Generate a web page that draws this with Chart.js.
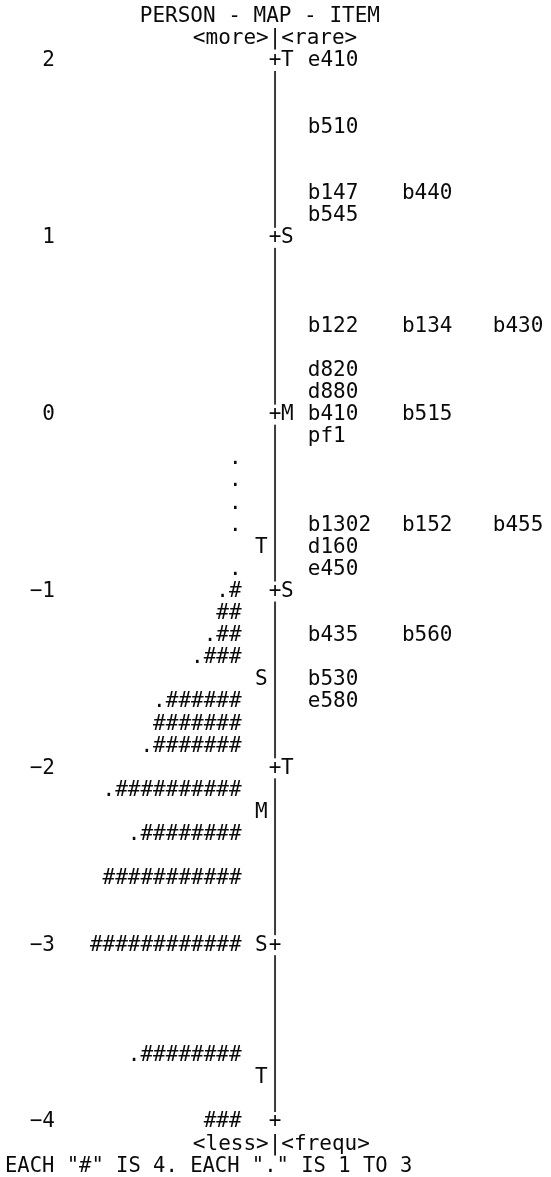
<!DOCTYPE html>
<html lang="en">
<head>
<meta charset="UTF-8">
<title>PERSON - MAP - ITEM</title>
<script src="https://cdn.jsdelivr.net/npm/chart.js"></script>
<style>
  body { margin: 0; background: #fff; }
  #box { width: 551px; height: 1177px; }
</style>
</head>
<body>
<div id="box"><canvas id="wright"></canvas></div>
<script>
// items (right side), measure in logits
const itemNames = ['e410', 'b510', 'b147', 'b440', 'b545', 'b122', 'b134', 'b430',
  'd820', 'd880', 'b410', 'b515', 'pf1', 'b1302', 'b152', 'b455', 'd160', 'e450',
  'b435', 'b560', 'b530', 'e580'];
const itemMeasures = [2, 1.625, 1.25, 1.25, 1.125, 0.5, 0.5, 0.5,
  0.25, 0.125, 0, 0, -0.125, -0.625, -0.625, -0.625, -0.75, -0.875,
  -1.25, -1.25, -1.5, -1.625];

// persons (left side): each "#" is 4, each "." is 1 to 3
const personMeasures = [-0.25, -0.375, -0.5, -0.625, -0.875, -1, -1.125, -1.25, -1.375,
  -1.625, -1.75, -1.875, -2.125, -2.375, -2.625, -3, -3.625, -4];
const personHashes = [0, 0, 0, 0, 0, 1, 2, 2, 3, 6, 7, 7, 10, 8, 11, 12, 8, 3];
const personDots   = [1, 1, 1, 1, 1, 1, 0, 1, 1, 1, 0, 1, 1, 1, 0, 0, 1, 0];

// mean / 1 SD / 2 SD markers
const personMarkLabels = ['T', 'S', 'M', 'S', 'T'];
const personMarkMeasures = [-0.75, -1.5, -2.25, -3, -3.75];
const itemMarkLabels = ['T', 'S', 'M', 'S', 'T'];
const itemMarkMeasures = [2, 1, 0, -1, -2];

const yTicks = [2, 1, 0, -1, -2, -3, -4];

const FONT = '"DejaVu Sans Mono", "Liberation Mono", monospace';
const INK = '#0a0a0a';

// x scale is in character columns (0..40)
const divX = 17.7, personX = 15.0, pMarkX = 16.6, iMarkX = 18.7;
const itemCols = [20.35, 27.95, 35.3];

// spread items that share a row over the columns
const used = {};
const itemPoints = itemMeasures.map((y, i) => {
  const c = used[y] || 0;
  used[y] = c + 1;
  return { x: itemCols[c], y: y, label: itemNames[i] };
});
const personPoints = personMeasures.map((y, i) => ({
  x: personX, y: y, label: '.'.repeat(personDots[i]) + '#'.repeat(personHashes[i])
}));
const pMarkPoints = personMarkMeasures.map((y, i) => ({ x: pMarkX, y: y, label: personMarkLabels[i] }));
const iMarkPoints = itemMarkMeasures.map((y, i) => ({ x: iMarkX, y: y, label: itemMarkLabels[i] }));
const plusPoints = yTicks.map(y => ({ x: divX, y: y, label: '+' }));

// writes the text marks at the points the scales give, plus the divider
const textMarks = {
  id: 'textMarks',
  afterDatasetsDraw(chart) {
    const ctx = chart.ctx;
    const xs = chart.scales.x, ys = chart.scales.y;
    ctx.save();
    ctx.fillStyle = INK;
    ctx.font = '21px ' + FONT;
    ctx.textBaseline = 'middle';
    chart.data.datasets.forEach((ds, di) => {
      const meta = chart.getDatasetMeta(di);
      ctx.textAlign = ds.align;
      meta.data.forEach((pt, i) => ctx.fillText(ds.data[i].label, pt.x, pt.y));
    });

    // vertical divider, broken at each "+"
    const dx = xs.getPixelForValue(divX);
    ctx.strokeStyle = '#3c3c3c';
    ctx.lineWidth = 2;
    for (let k = 0; k < yTicks.length - 1; k++) {
      const a = ys.getPixelForValue(yTicks[k]) + 10;
      const b = ys.getPixelForValue(yTicks[k + 1]) - 10;
      ctx.beginPath();
      ctx.moveTo(dx, a);
      ctx.lineTo(dx, b);
      ctx.stroke();
    }

    // header and footer lines
    const adv = ctx.measureText('M').width;
    const row = ys.getPixelForValue(1.875) - ys.getPixelForValue(2);
    const top = ys.getPixelForValue(2), bot = ys.getPixelForValue(-4);
    ctx.textAlign = 'left';
    ctx.fillText('PERSON - MAP - ITEM', dx - 10.7 * adv, top - 2 * row);
    ctx.fillText('<more>|<rare>', dx - 6.5 * adv, top - row);
    ctx.fillText('<less>|<frequ>', dx - 6.5 * adv, bot + row);
    ctx.font = '20.5px ' + FONT;
    ctx.fillText('EACH "#" IS 4. EACH "." IS 1 TO 3', 5, bot + 2 * row);
    ctx.restore();
  }
};

const mark = (data, align) => ({ data: data, align: align, pointRadius: 0, showLine: false });

new Chart(document.getElementById('wright'), {
  type: 'scatter',
  data: {
    datasets: [
      mark(itemPoints, 'left'),
      mark(personPoints, 'right'),
      mark(pMarkPoints, 'center'),
      mark(iMarkPoints, 'center'),
      mark(plusPoints, 'center')
    ]
  },
  options: {
    responsive: true,
    maintainAspectRatio: false,
    animation: false,
    events: [],
    layout: { padding: { top: 61, bottom: 55, left: 0, right: 0 } },
    plugins: { legend: { display: false }, tooltip: { enabled: false } },
    scales: {
      x: { type: 'linear', min: 0, max: 40, display: false },
      y: {
        type: 'linear', min: -4, max: 2,
        afterBuildTicks: s => { s.ticks = yTicks.map(v => ({ value: v })); },
        afterFit: s => { s.width = 56; },
        grid: { display: false, drawTicks: false },
        border: { display: false },
        ticks: {
          color: INK,
          padding: 1,
          font: { family: FONT, size: 21 },
          callback: v => (v < 0 ? '\u2212' + Math.abs(v) : String(v))
        }
      }
    }
  },
  plugins: [textMarks]
});
</script>
</body>
</html>
